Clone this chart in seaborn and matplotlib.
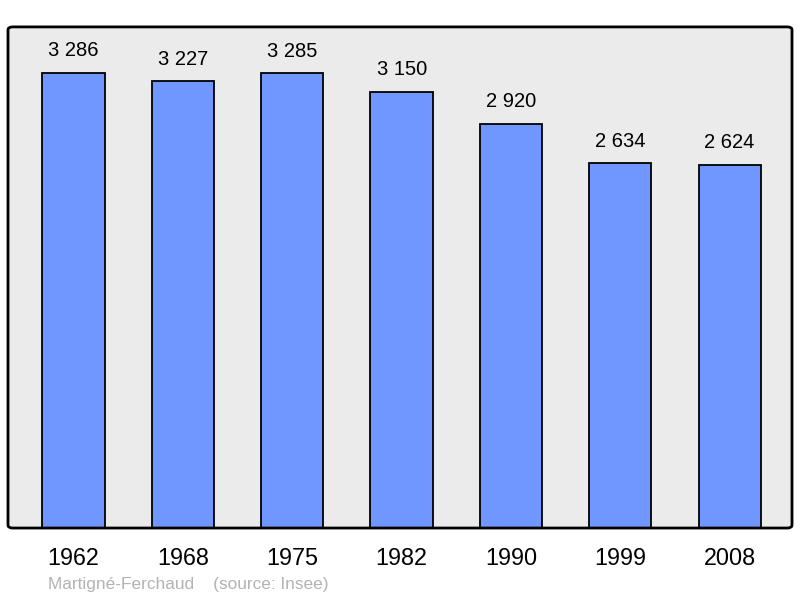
import matplotlib
matplotlib.use("Agg")
import matplotlib.pyplot as plt
from matplotlib.patches import FancyBboxPatch
import seaborn as sns
import pandas as pd

years = ["1962", "1968", "1975", "1982", "1990", "1999", "2008"]
population = [3286, 3227, 3285, 3150, 2920, 2634, 2624]
labels = ["3 286", "3 227", "3 285", "3 150", "2 920", "2 634", "2 624"]

sns.set_theme(style="white")
plt.rcParams['font.family'] = ['Liberation Sans', 'DejaVu Sans']

df = pd.DataFrame({"year": years, "pop": population})

fig = plt.figure(figsize=(8, 5.98), dpi=100)
ax = fig.add_axes([0.01, 0.117, 0.98, 0.838])
ax.set_facecolor("#ebebeb")

sns.barplot(data=df, x="year", y="pop", color="#7096ff", saturation=1,
            width=0.57, edgecolor="black", linewidth=1.3, ax=ax)

ax.set_xlim(-0.6, 6.57)
ax.set_ylim(0, 3618)

for i, (v, t) in enumerate(zip(population, labels)):
    ax.text(i, v + 90, t, ha="center", va="bottom", fontsize=14.5, color="black")

for s in ax.spines.values():
    s.set_visible(False)
frame = FancyBboxPatch((0, 0), 1, 1, boxstyle="round,pad=0,rounding_size=0.006",
                       transform=ax.transAxes, fill=False, edgecolor="black",
                       linewidth=2, clip_on=False, zorder=5)
ax.add_patch(frame)

ax.set_yticks([])
ax.set_xlabel("")
ax.set_ylabel("")
ax.tick_params(axis="x", length=0, pad=14, labelsize=16.8, colors="black")

fig.text(48 / 800, 1 - 585 / 598, "Martigné-Ferchaud    (source: Insee)",
         fontsize=12.4, color="#b3b3b3", ha="left", va="center")

fig.savefig("out.png", dpi=100)
